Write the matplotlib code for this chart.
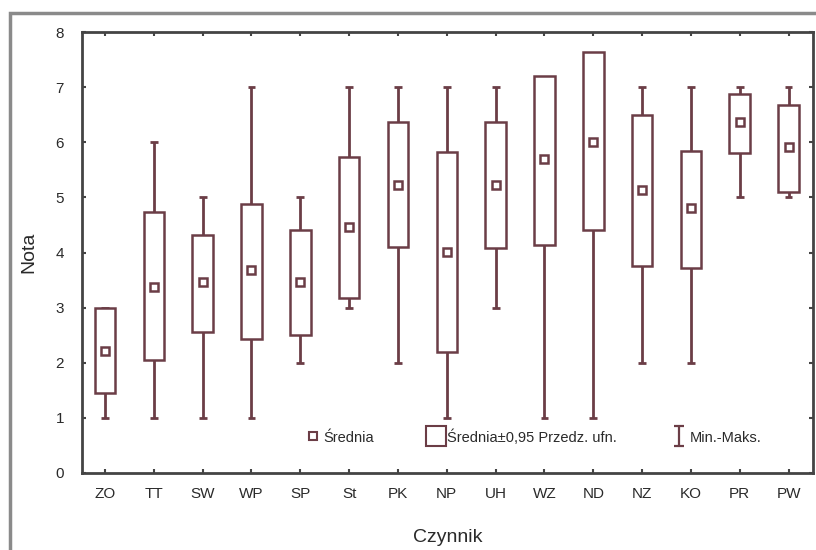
import matplotlib
matplotlib.use("Agg")
import matplotlib.pyplot as plt
from matplotlib.lines import Line2D
from matplotlib.patches import Rectangle
from matplotlib.path import Path
import numpy as np

plt.rcParams['font.family'] = ['Liberation Sans', 'DejaVu Sans']

categories = ["ZO", "TT", "SW", "WP", "SP", "St", "PK", "NP", "UH", "WZ", "ND", "NZ", "KO", "PR", "PW"]
means    = [2.21, 3.38, 3.46, 3.68, 3.46, 4.47, 5.23, 4.01, 5.23, 5.69, 6.01, 5.14, 4.80, 6.36, 5.92]
ci_low   = [1.45, 2.05, 2.56, 2.43, 2.50, 3.17, 4.10, 2.20, 4.08, 4.14, 4.40, 3.76, 3.72, 5.80, 5.10]
ci_high  = [3.00, 4.74, 4.32, 4.88, 4.41, 5.74, 6.37, 5.82, 6.37, 7.20, 7.63, 6.50, 5.85, 6.88, 6.68]
mins     = [1, 1, 1, 1, 2, 3, 2, 1, 3, 1, 1, 2, 2, 5, 5]
maxs     = [3, 6, 5, 7, 5, 7, 7, 7, 7, 7, 7, 7, 7, 7, 7]

col = '#6b3d46'
txt = '#2a2a2a'

fig = plt.figure(figsize=(8.16, 5.5), dpi=100)
fig.patches.append(Rectangle((10/816, -0.2), 1.2, 1 - 13/550 + 0.2, transform=fig.transFigure,
                             fill=False, edgecolor='#8a8a8a', lw=2.5, figure=fig))
ax = fig.add_axes([82/816, 77/550, 731/816, 441/550])

x = np.arange(len(categories))
ax.vlines(x, mins, maxs, color=col, lw=2, zorder=2)
ax.hlines(mins, x - 0.08, x + 0.08, color=col, lw=2, zorder=2)
ax.hlines(maxs, x - 0.08, x + 0.08, color=col, lw=2, zorder=2)
ax.bar(x, np.array(ci_high) - np.array(ci_low), bottom=ci_low, width=0.42,
       facecolor='white', edgecolor=col, lw=1.8, zorder=3)
ax.plot(x, means, 's', ms=6, mfc='white', mec=col, mew=1.8, zorder=4, ls='none')

ax.set_xlim(-0.47, 14.5)
ax.set_ylim(0, 8)
ax.set_xticks(x)
ax.set_xticklabels(categories)
ax.set_yticks(range(0, 9))
ax.tick_params(direction='in', length=3, width=1.5, colors='#444444', labelcolor=txt,
               labelsize=11, top=True, right=True)
ax.tick_params(axis='x', pad=10)
ax.tick_params(axis='y', pad=13)
for s in ax.spines.values():
    s.set_color('#444444')
    s.set_linewidth(2)

ax.set_xlabel('Czynnik', fontsize=14, color=txt, labelpad=20)
ax.set_ylabel('Nota', fontsize=14, color=txt, labelpad=13)

ibeam = Path([(-0.5, -1), (0.5, -1), (0, -1), (0, 1), (-0.5, 1), (0.5, 1)],
             [Path.MOVETO, Path.LINETO, Path.MOVETO, Path.LINETO, Path.MOVETO, Path.LINETO])
handles = [
    Line2D([], [], marker='s', ms=6, mfc='white', mec=col, mew=1.5, ls='none'),
    Line2D([], [], marker='s', ms=14, mfc='white', mec=col, mew=1.5, ls='none'),
    Line2D([], [], marker=ibeam, ms=14, color=col, mew=1.6, ls='none'),
]
labels = ['Średnia', 'Średnia±0,95 Przedz. ufn.', 'Min.-Maks.']
leg = ax.legend(handles, labels, ncol=3, loc='center', bbox_to_anchor=(0.618, 0.082),
                frameon=False, fontsize=10.5, handletextpad=0.3, columnspacing=3.8,
                handlelength=0.9)
for t in leg.get_texts():
    t.set_color(txt)

fig.savefig('out.png', dpi=100)
